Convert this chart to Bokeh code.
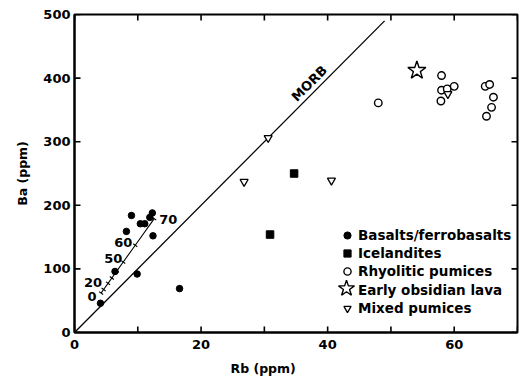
import math
from bokeh.plotting import figure
from bokeh.models import (Range1d, FixedTicker, Legend, LegendItem, Title,
                          ColumnDataSource)
from bokeh.embed import file_html
from bokeh.resources import INLINE
from bokeh.core.properties import value

# ---------------- data ----------------
basalt_rb = [4.1, 6.4, 8.2, 9.0, 9.9, 10.4, 11.1, 11.9, 12.3, 12.4, 16.6]
basalt_ba = [46, 96, 159, 184, 92, 171, 171, 181, 188, 152, 69]

icel_rb = [30.9, 34.7]
icel_ba = [154, 250]

rhyo_rb = [48.0, 58.0, 58.0, 58.9, 60.0, 57.9, 64.9, 65.6, 66.2, 65.9, 65.1]
rhyo_ba = [361, 404, 381, 383, 387, 364, 387, 390, 370, 354, 340]

obs_rb = [54.1]
obs_ba = [412]

mixed_rb = [26.8, 30.6, 40.6, 59.0]
mixed_ba = [237, 306, 239, 375]

morb_rb = [0, 49]
morb_ba = [0, 490]

# fractional crystallisation path (% crystallised)
frac_pct = [0, 10, 20, 30, 40, 50, 60, 70]
frac_rb = [4.2, 4.6, 5.3, 5.9, 6.7, 7.7, 9.6, 12.6]
frac_ba = [62, 67.6, 77.3, 85.7, 96.8, 110.8, 137.2, 179]
frac_labels = ["0", "", "20", "", "", "50", "60", "70"]
frac_label_dx = [-9, 0, -15, 0, 0, -10, -12, 14]
frac_label_dy = [3, 0, -1, 0, 0, -4, -3, 1]

x_labeled = [0, 20, 40, 60]
x_all = [0, 10, 20, 30, 40, 50, 60, 70]
y_ticks = [0, 100, 200, 300, 400, 500]

FONT = "DejaVu Sans"
XMIN, XMAX, YMIN, YMAX = 0, 70, 0, 500
FRAME_W, FRAME_H = 443, 318
TICK_PX = 6

p = figure(width=524, height=384, output_backend="svg", toolbar_location=None,
           x_range=Range1d(XMIN, XMAX), y_range=Range1d(YMIN, YMAX),
           min_border_left=74, min_border_right=7, min_border_top=14,
           min_border_bottom=52)
p.xgrid.visible = False
p.ygrid.visible = False
p.outline_line_color = "black"
p.outline_line_width = 2
p.background_fill_color = "white"
p.border_fill_color = "white"

for ax, ticks, standoff in ((p.xaxis[0], x_labeled, 7), (p.yaxis[0], y_ticks, 4)):
    ax.ticker = FixedTicker(ticks=ticks)
    ax.axis_line_color = "black"
    ax.axis_line_width = 2
    ax.major_tick_in = 0
    ax.major_tick_out = 0
    ax.minor_tick_line_color = None
    ax.major_label_standoff = standoff
    ax.major_label_text_font = FONT
    ax.major_label_text_font_style = "bold"
    ax.major_label_text_font_size = "13px"
    ax.major_label_text_color = "black"

# inward tick marks on all four sides
dy = TICK_PX * (YMAX - YMIN) / FRAME_H
dx = TICK_PX * (XMAX - XMIN) / FRAME_W
nx, ny = len(x_all), len(y_ticks)
TICK = dict(line_color="black", line_width=1.6)
p.segment(x0=x_all, y0=[YMIN] * nx, x1=x_all, y1=[YMIN + dy] * nx, **TICK)
p.segment(x0=x_all, y0=[YMAX] * nx, x1=x_all, y1=[YMAX - dy] * nx, **TICK)
p.segment(x0=[XMIN] * ny, y0=y_ticks, x1=[XMIN + dx] * ny, y1=y_ticks, **TICK)
p.segment(x0=[XMAX] * ny, y0=y_ticks, x1=[XMAX - dx] * ny, y1=y_ticks, **TICK)

# MORB reference line
p.line(morb_rb, morb_ba, line_color="black", line_width=1.3)
p.text(x=[37.1], y=[391.6], text=["MORB"], angle=math.pi / 4,
       text_align="center", text_baseline="middle",
       text_font=value(FONT), text_font_style="bold", text_font_size="13px",
       text_color="black")

# fractionation path
p.line(frac_rb, frac_ba, line_color="black", line_width=1.1)
ang = math.atan2((frac_ba[-1] - frac_ba[0]) * FRAME_H / (YMAX - YMIN),
                 (frac_rb[-1] - frac_rb[0]) * FRAME_W / (XMAX - XMIN))
p.scatter(frac_rb, frac_ba, marker="dash", size=5, angle=ang + math.pi / 2,
          line_color="black", line_width=1.1)
fsrc = ColumnDataSource(dict(x=frac_rb, y=frac_ba, t=frac_labels,
                             dx=frac_label_dx, dy=frac_label_dy))
p.text(x="x", y="y", text="t", x_offset="dx", y_offset="dy", source=fsrc,
       text_align="center", text_baseline="middle",
       text_font=value(FONT), text_font_style="bold", text_font_size="13px",
       text_color="black")

# data series
r_bas = p.scatter(basalt_rb, basalt_ba, marker="circle", size=6.5,
                  fill_color="black", line_color="black")
r_ice = p.scatter(icel_rb, icel_ba, marker="square", size=7.5,
                  fill_color="black", line_color="black")
r_rhy = p.scatter(rhyo_rb, rhyo_ba, marker="circle", size=7.5,
                  fill_color="white", line_color="black", line_width=1.4)
r_obs = p.scatter(obs_rb, obs_ba, marker="star", size=19,
                  fill_color="white", line_color="black", line_width=1.4)
r_mix = p.scatter(mixed_rb, mixed_ba, marker="inverted_triangle", size=8,
                  fill_color="white", line_color="black", line_width=1.3)
r_blank = p.scatter([], [], marker="circle", size=1, fill_alpha=0, line_alpha=0)


def make_legend(items, loc, gw=18, gh=18):
    lg = Legend(items=items, location=loc)
    lg.glyph_width = gw
    lg.glyph_height = gh
    lg.label_height = gh
    lg.label_standoff = 2
    lg.spacing = 0
    lg.padding = 0
    lg.margin = 0
    lg.border_line_alpha = 0
    lg.background_fill_alpha = 0
    lg.label_text_font = FONT
    lg.label_text_font_style = "bold"
    lg.label_text_font_size = "13.5px"
    lg.label_text_color = "black"
    lg.label_text_baseline = "middle"
    return lg


p.add_layout(make_legend([
    LegendItem(label="Basalts/ferrobasalts", renderers=[r_bas]),
    LegendItem(label="Icelandites", renderers=[r_ice]),
    LegendItem(label="Rhyolitic pumices", renderers=[r_rhy]),
], (264, 52)), "center")
# large star symbol for the obsidian entry, then its text
p.add_layout(make_legend([
    LegendItem(label=" ", renderers=[r_obs]),
], (251, 23), gw=42, gh=42), "center")
p.add_layout(make_legend([
    LegendItem(label="Early obsidian lava", renderers=[r_blank]),
], (264, 33)), "center")
p.add_layout(make_legend([
    LegendItem(label="Mixed pumices", renderers=[r_mix]),
], (264, 15)), "center")

# axis titles
p.add_layout(Title(text="Rb (ppm)", align="left", offset=156, standoff=14,
                   text_font=FONT, text_font_style="bold",
                   text_font_size="12.5px", text_color="black"), "below")
p.add_layout(Title(text="Ba (ppm)", align="center", offset=-16, standoff=22,
                   text_font=FONT, text_font_style="bold",
                   text_font_size="12.5px", text_color="black"), "left")

open("out.html", "w").write(file_html(p, INLINE))
